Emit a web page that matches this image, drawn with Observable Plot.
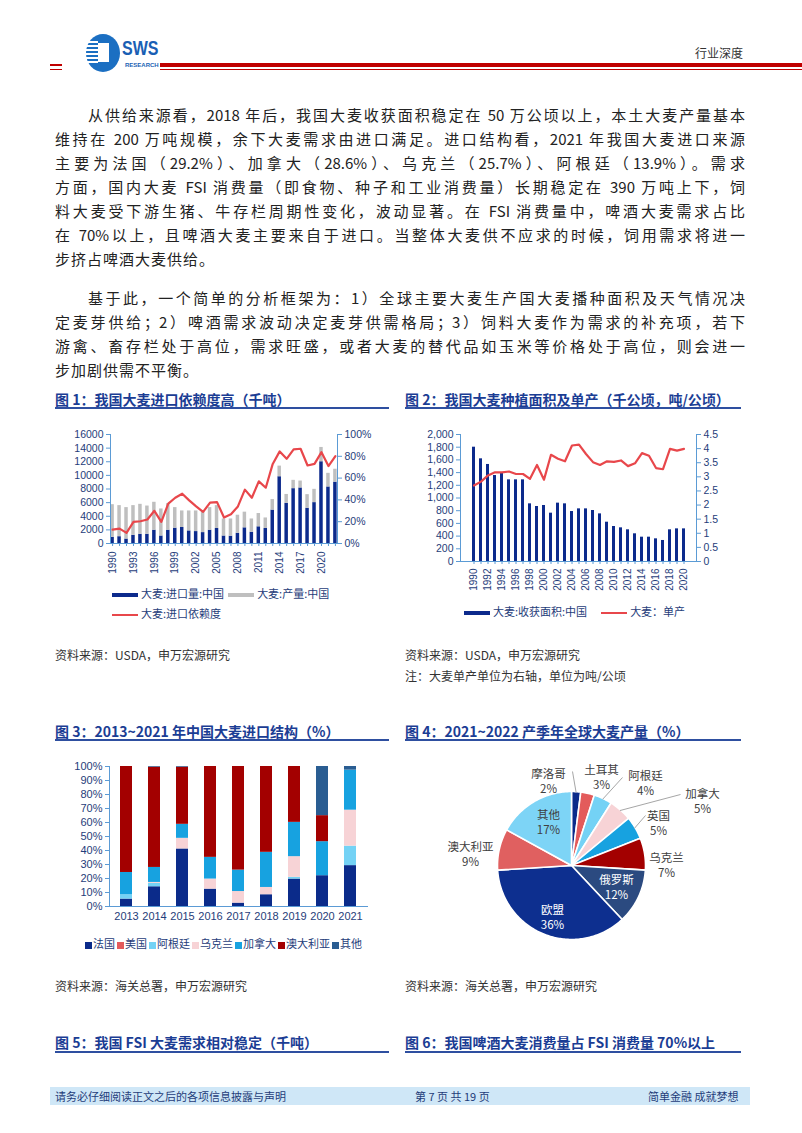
<!DOCTYPE html>
<html><head><meta charset="utf-8">
<script src="https://cdn.jsdelivr.net/npm/d3@7"></script>
<script src="https://cdn.jsdelivr.net/npm/@observablehq/plot@0.6"></script>
<style>
body{margin:0;background:#fff;}
#page{position:relative;width:802px;height:1133px;overflow:hidden;font-family:"Noto Sans CJK SC","Noto Sans",sans-serif;color:#222;}
.abs{position:absolute;white-space:nowrap;}
.ln{position:absolute;height:24px;line-height:24px;font-size:15px;text-align:justify;text-align-last:justify;color:#222;}
.ln.last{text-align:left;text-align-last:left;letter-spacing:1px;}
.ttl{position:absolute;font-size:14px;font-weight:bold;color:#1b3d94;line-height:18px;white-space:nowrap;}
.uline{position:absolute;height:2px;background:#2e4fa0;}
.src{position:absolute;font-size:12px;line-height:16px;color:#333;white-space:nowrap;}
.leg{position:absolute;font-size:11px;line-height:14px;color:#1f3d7a;white-space:nowrap;}
.sw{display:inline-block;vertical-align:middle;margin-right:3px;}
.chart{position:absolute;}
</style></head>
<body><div id="page">

<!-- header -->
<div class="abs" style="left:50px;top:64px;width:12px;height:2px;background:#c00000"></div>
<div class="abs" style="left:50px;top:69px;width:12px;height:1px;background:#c00000"></div>
<div class="abs" style="left:160px;top:63px;width:642px;height:4px;background:#c00000"></div>
<div class="abs" style="left:160px;top:69px;width:642px;height:1px;background:#c00000"></div>
<svg class="abs" style="left:80px;top:32px" width="44" height="44">
  <ellipse cx="23" cy="21" rx="17" ry="19" fill="#1b6fc2"/>
  <rect x="6" y="9" width="12" height="2" fill="#fff"/><rect x="5" y="13" width="13" height="2" fill="#fff"/>
  <rect x="5" y="17" width="13" height="2" fill="#fff"/><rect x="5" y="21" width="13" height="2" fill="#fff"/>
  <rect x="5" y="25" width="13" height="2" fill="#fff"/><rect x="6" y="29" width="12" height="2" fill="#fff"/>
  <rect x="18" y="11" width="11" height="19" fill="#fff"/>
</svg>
<div class="abs" style="left:122px;top:36px;font-family:'Liberation Sans',Arial,sans-serif;font-weight:bold;font-size:20px;line-height:24px;color:#1a5fb4;transform:scaleX(0.8);transform-origin:left top;">SWS</div>
<div class="abs" style="left:125px;top:61px;font-family:'Liberation Sans',Arial,sans-serif;font-weight:bold;font-size:6px;line-height:8px;color:#1a5fb4;">RESEARCH</div>
<div class="abs" style="left:695px;top:44px;font-size:12px;color:#333;">行业深度</div>

<!-- body text -->
<div id="body"></div>

<!-- figure titles -->
<div class="ttl" style="left:55px;top:390px;">图 1：我国大麦进口依赖度高（千吨）</div>
<div class="uline" style="left:55px;top:407px;width:334px;"></div>
<div class="ttl" style="left:405px;top:390px;">图 2：我国大麦种植面积及单产（千公顷，吨/公顷）</div>
<div class="uline" style="left:405px;top:407px;width:336px;"></div>

<div class="chart" id="c1" style="left:55px;top:425px;"></div>
<div class="chart" id="c2" style="left:400px;top:425px;"></div>

<div class="leg" style="left:112px;top:586px;"><span class="sw" style="width:26px;height:4px;background:#0c2a8c"></span>大麦:进口量:中国<span class="sw" style="width:26px;height:4px;background:#bfbfbf;margin-left:4px"></span>大麦:产量:中国</div>
<div class="leg" style="left:112px;top:606px;"><span class="sw" style="width:26px;height:2px;background:#e8474b"></span>大麦:进口依赖度</div>
<div class="leg" style="left:464px;top:604px;"><span class="sw" style="width:26px;height:4px;background:#0c2a8c"></span>大麦:收获面积:中国<span class="sw" style="width:26px;height:2px;background:#e8474b;margin-left:14px"></span>大麦：单产</div>

<div class="src" style="left:55px;top:647px;">资料来源：USDA，申万宏源研究</div>
<div class="src" style="left:405px;top:647px;">资料来源：USDA，申万宏源研究</div>
<div class="src" style="left:405px;top:668px;">注：大麦单产单位为右轴，单位为吨/公顷</div>

<div class="ttl" style="left:55px;top:722px;">图 3：2013~2021 年中国大麦进口结构（%）</div>
<div class="uline" style="left:55px;top:739px;width:334px;"></div>
<div class="ttl" style="left:405px;top:722px;">图 4：2021~2022 产季年全球大麦产量（%）</div>
<div class="uline" style="left:405px;top:739px;width:336px;"></div>

<div class="chart" id="c3" style="left:55px;top:758px;"></div>
<div class="chart" id="c4" style="left:400px;top:755px;"></div>
<div class="leg" id="leg3" style="left:85px;top:936px;"></div>

<div class="src" style="left:55px;top:978px;">资料来源：海关总署，申万宏源研究</div>
<div class="src" style="left:405px;top:978px;">资料来源：海关总署，申万宏源研究</div>

<div class="ttl" style="left:55px;top:1033px;">图 5：我国 FSI 大麦需求相对稳定（千吨）</div>
<div class="uline" style="left:55px;top:1051px;width:334px;"></div>
<div class="ttl" style="left:405px;top:1033px;">图 6：我国啤酒大麦消费量占 FSI 消费量 70%以上</div>
<div class="uline" style="left:405px;top:1051px;width:336px;"></div>

<!-- footer -->
<div class="abs" style="left:50px;top:1087px;width:700px;height:18px;background:#cfe7f7"></div>
<div class="abs" style="left:55px;top:1088px;font-size:11px;line-height:16px;color:#1f3d7a">请务必仔细阅读正文之后的各项信息披露与声明</div>
<div class="abs" style="left:415px;top:1088px;font-size:11px;line-height:16px;color:#1f3d7a">第 7 页 共 19 页</div>
<div class="abs" style="left:648px;top:1088px;font-size:11px;line-height:16px;color:#1f3d7a">简单金融 成就梦想</div>

</div>
<script>
// ---------- body text ----------
const para1 = [
  "从供给来源看，2018 年后，我国大麦收获面积稳定在 50 万公顷以上，本土大麦产量基本",
  "维持在 200 万吨规模，余下大麦需求由进口满足。进口结构看，2021 年我国大麦进口来源",
  "主要为法国（29.2%）、加拿大（28.6%）、乌克兰（25.7%）、阿根廷（13.9%）。需求",
  "方面，国内大麦 FSI 消费量（即食物、种子和工业消费量）长期稳定在 390 万吨上下，饲",
  "料大麦受下游生猪、牛存栏周期性变化，波动显著。在 FSI 消费量中，啤酒大麦需求占比",
  "在 70%以上，且啤酒大麦主要来自于进口。当整体大麦供不应求的时候，饲用需求将进一",
  "步挤占啤酒大麦供给。"
];
const para2 = [
  "基于此，一个简单的分析框架为：1）全球主要大麦生产国大麦播种面积及天气情况决",
  "定麦芽供给；2）啤酒需求波动决定麦芽供需格局；3）饲料大麦作为需求的补充项，若下",
  "游禽、畜存栏处于高位，需求旺盛，或者大麦的替代品如玉米等价格处于高位，则会进一",
  "步加剧供需不平衡。"
];

// ---------- chart 1 data ----------
const years1 = [1990,1991,1992,1993,1994,1995,1996,1997,1998,1999,2000,2001,2002,2003,2004,2005,2006,2007,2008,2009,2010,2011,2012,2013,2014,2015,2016,2017,2018,2019,2020,2021,2022];
const imports1 = [900,1000,650,1200,1350,1350,1950,1100,1950,2250,2350,1850,1750,1600,1950,2200,1100,1070,1500,2300,1650,2450,2200,4900,9800,5900,8050,8150,5170,6000,12000,8300,9000];
const production1 = [4800,4560,4620,4360,4400,4150,4100,3970,3900,3020,2430,2930,3030,3180,3320,3360,2500,2530,2650,2300,1950,1950,1550,1550,1560,1300,1220,1020,2000,1950,2100,2000,1900];
const dependence1 = [12.8,13.7,9.8,19.8,20.4,22,30,19.8,36.6,42,45.7,39.6,34,29,37.5,38,23.8,26.8,34,49.4,42,57,51.2,73,84.5,77.7,86.3,86.9,71.6,73,83.8,71,80.2];
const y1Ticks = [0,2000,4000,6000,8000,10000,12000,14000,16000];
const y1RightTicks = [0,20,40,60,80,100];
const x1LabelYears = [1990,1993,1996,1999,2002,2005,2008,2011,2014,2017,2020];

// ---------- chart 2 data ----------
const years2 = [1990,1991,1992,1993,1994,1995,1996,1997,1998,1999,2000,2001,2002,2003,2004,2005,2006,2007,2008,2009,2010,2011,2012,2013,2014,2015,2016,2017,2018,2019,2020];
const area2 = [1800,1617,1528,1354,1391,1286,1286,1286,908,866,882,761,919,908,787,829,829,803,750,619,551,530,499,436,383,383,357,331,499,514,514];
const yield2 = [2.69,2.83,3.05,3.16,3.16,3.19,3.1,3.1,2.93,3.42,2.9,3.78,3.64,3.55,4.11,4.14,3.81,3.52,3.42,3.55,3.53,3.58,3.38,3.48,3.84,3.75,3.31,3.27,3.99,3.93,3.99];
const y2Ticks = [0,200,400,600,800,1000,1200,1400,1600,1800,2000];
const y2RightTicks = [0,0.5,1,1.5,2,2.5,3,3.5,4,4.5];
const x2LabelYears = [1990,1992,1994,1996,1998,2000,2002,2004,2006,2008,2010,2012,2014,2016,2018,2020];

// ---------- chart 3 data ----------
const years3 = ["2013","2014","2015","2016","2017","2018","2019","2020","2021"];
const countries3 = ["法国","美国","阿根廷","乌克兰","加拿大","澳大利亚","其他"];
const colors3 = ["#0b2b8a","#e35b5b","#74d2f5","#f7d3d6","#17a2e0","#a30000","#2a5d92"];
const france3    = [5.3,14.1,41.1,12.4,2.4,8.4,19.6,22.0,29.2];
const usa3       = [0,0,0,0,0,0,0,0,0];
const argentina3 = [3.1,2.4,0,0,0,0,1.2,0,13.9];
const ukraine3   = [0,0.7,7.6,7.2,8.3,5.2,14.8,0,25.7];
const canada3    = [15.9,10.7,10.0,15.5,15.3,25.1,24.5,24.3,28.6];
const australia3 = [75.7,71.6,40.8,64.9,74.0,61.3,39.9,18.6,0];
const others3    = [0,0.5,0.5,0,0,0,0,35.1,2.6];
const y3Ticks = [0,10,20,30,40,50,60,70,80,90,100];

// ---------- chart 4 data ----------
const pieNames = ["摩洛哥","土耳其","阿根廷","加拿大","英国","乌克兰","俄罗斯","欧盟","澳大利亚","其他"];
const pieShares = [2,3,4,5,5,7,12,36,9,17];
const pieColors = ["#0b2b8a","#e35b5b","#74d2f5","#f7d3d6","#17a2e0","#a30000","#2b4a80","#0d2f8f","#e06060","#7dd4f6"];

// ---------- layout (not data) ----------
const NUMFONT = "Liberation Sans, Arial, sans-serif";
const AXIS = "#5b9bd5", TICKTXT = "#1f3d7a", NAVY = "#0c2a8c", GRAY = "#bfbfbf", RED = "#e8474b";
const pieLabelLayout = {
  "摩洛哥":[-23,-85,[1,-94],"#404040"], "土耳其":[30,-89,null,"#404040"], "阿根廷":[74,-83,[51,-88],"#404040"],
  "加拿大":[131,-65,[109,-71],"#404040"], "英国":[87,-43,[74,-50],"#404040"], "乌克兰":[95,-1,null,"#404040"],
  "俄罗斯":[45,21,null,"#ffffff"], "欧盟":[-19,51,null,"#ffffff"], "澳大利亚":[-101,-12,null,"#404040"], "其他":[-23,-44,null,"#404040"]
};

// ---------- render body ----------
const body = document.getElementById("body");
function addLines(lines, top0) {
  lines.forEach((t, i) => {
    const d = document.createElement("div");
    d.className = "ln" + (i === lines.length - 1 ? " last" : "");
    const left = i === 0 ? 88 : 55;
    d.style.left = left + "px";
    d.style.width = (745 - left) + "px";
    d.style.top = (top0 + i * 24) + "px";
    d.textContent = t;
    body.appendChild(d);
  });
}
addLines(para1, 103);
addLines(para2, 286);

// ---------- chart 1 ----------
const rows1 = years1.map((y, i) => ({year: y, imports: imports1[i], production: production1[i], dep: dependence1[i]}));
const k1 = 16000 / 100;
document.getElementById("c1").appendChild(Plot.plot({
  width: 335, height: 160, marginLeft: 55, marginRight: 53, marginTop: 9, marginBottom: 42,
  style: {fontFamily: NUMFONT, background: "transparent", overflow: "visible"},
  x: {type: "band", domain: years1, paddingInner: 0.5, paddingOuter: 0.05},
  y: {domain: [0, 16000]},
  marks: [
    Plot.barY(rows1, {x: "year", y1: 0, y2: "imports", fill: NAVY}),
    Plot.barY(rows1, {x: "year", y1: "imports", y2: d => d.imports + d.production, fill: GRAY}),
    Plot.line(rows1, {x: "year", y: d => d.dep * k1, stroke: RED, strokeWidth: 2.2}),
    Plot.frame({anchor: "left", stroke: AXIS}),
    Plot.frame({anchor: "right", stroke: AXIS}),
    Plot.frame({anchor: "bottom", stroke: AXIS}),
    Plot.axisY({ticks: y1Ticks, tickFormat: d => String(d), tickSize: 4, tickPadding: 3, stroke: AXIS, fill: TICKTXT, fontSize: 10.5, label: null}),
    Plot.axisY({anchor: "right", ticks: y1RightTicks.map(v => v * k1), tickFormat: d => Math.round(d / k1) + "%", tickSize: 4, tickPadding: 3, stroke: AXIS, fill: TICKTXT, fontSize: 10.5, label: null}),
    Plot.axisX({ticks: years1, tickFormat: () => "", tickSize: 3, stroke: AXIS, label: null}),
    Plot.axisX({ticks: x1LabelYears, tickFormat: d => String(d), tickSize: 0, tickRotate: -90, tickPadding: 8, fill: TICKTXT, fontSize: 10, label: null})
  ]
}));

// ---------- chart 2 ----------
const rows2 = years2.map((y, i) => ({year: y, area: area2[i], yld: yield2[i]}));
const k2 = 2000 / 4.5;
document.getElementById("c2").appendChild(Plot.plot({
  width: 350, height: 172, marginLeft: 60, marginRight: 54, marginTop: 9, marginBottom: 36,
  style: {fontFamily: NUMFONT, background: "transparent", overflow: "visible"},
  x: {type: "band", domain: years2, paddingInner: 0.62, paddingOuter: 0.1},
  y: {domain: [0, 2000]},
  marks: [
    Plot.barY(rows2, {x: "year", y: "area", fill: NAVY}),
    Plot.line(rows2, {x: "year", y: d => d.yld * k2, stroke: RED, strokeWidth: 2.2}),
    Plot.frame({anchor: "left", stroke: AXIS}),
    Plot.frame({anchor: "right", stroke: AXIS}),
    Plot.frame({anchor: "bottom", stroke: AXIS}),
    Plot.axisY({ticks: y2Ticks, tickFormat: d3.format(","), tickSize: 4, tickPadding: 3, stroke: AXIS, fill: TICKTXT, fontSize: 10.5, label: null}),
    Plot.axisY({anchor: "right", ticks: y2RightTicks.map(v => v * k2), tickFormat: d => String(Math.round(d / k2 * 10) / 10), tickSize: 4, tickPadding: 3, stroke: AXIS, fill: TICKTXT, fontSize: 10.5, label: null}),
    Plot.axisX({ticks: years2, tickFormat: () => "", tickSize: 3, stroke: AXIS, label: null}),
    Plot.axisX({ticks: x2LabelYears, tickFormat: d => String(d), tickSize: 0, tickRotate: -90, tickPadding: 7, fill: TICKTXT, fontSize: 10, label: null})
  ]
}));

// ---------- chart 3 ----------
const series3 = [france3, usa3, argentina3, ukraine3, canada3, australia3, others3];
const rows3 = [];
countries3.forEach((c, ci) => years3.forEach((y, yi) => rows3.push({year: y, country: c, share: series3[ci][yi]})));
document.getElementById("c3").appendChild(Plot.plot({
  width: 320, height: 170, marginLeft: 54, marginRight: 8, marginTop: 8, marginBottom: 22,
  style: {fontFamily: NUMFONT, background: "transparent", overflow: "visible"},
  x: {type: "band", domain: years3, paddingInner: 0.58, paddingOuter: 0.29},
  y: {domain: [0, 100]},
  color: {domain: countries3, range: colors3},
  marks: [
    Plot.barY(rows3, {x: "year", y: "share", fill: "country", order: countries3}),
    Plot.frame({anchor: "left", stroke: AXIS}),
    Plot.frame({anchor: "bottom", stroke: AXIS}),
    Plot.axisY({ticks: y3Ticks, tickFormat: d => d + "%", tickSize: 4, tickPadding: 3, stroke: AXIS, fill: TICKTXT, fontSize: 11, label: null}),
    Plot.axisX({tickSize: 0, tickPadding: 6, fill: TICKTXT, fontSize: 11, label: null})
  ]
}));
const leg3 = document.getElementById("leg3");
leg3.innerHTML = countries3.map((c, i) => `<span class="sw" style="width:7px;height:7px;background:${colors3[i]};margin-right:1px"></span><span style="margin-right:2px">${c}</span>`).join("");

// ---------- chart 4 (pie) ----------
const R = 74, CX = 171, CY = 110, W4 = 345, H4 = 200;
const tot = d3.sum(pieShares);
let acc = 0;
const slices = pieNames.map((n, i) => {
  const a0 = acc / tot * 2 * Math.PI; acc += pieShares[i]; const a1 = acc / tot * 2 * Math.PI;
  return {name: n, share: pieShares[i], a0, a1};
});
const poly = slices.flatMap(s => {
  const pts = [{name: s.name, x: 0, y: 0}];
  const n = Math.max(2, Math.ceil((s.a1 - s.a0) / (Math.PI / 180)));
  for (let k = 0; k <= n; k++) { const a = s.a0 + (s.a1 - s.a0) * k / n; pts.push({name: s.name, x: Math.sin(a), y: Math.cos(a)}); }
  pts.push({name: s.name, x: 0, y: 0});
  return pts;
});
const labels4 = slices.map(s => {
  const L = pieLabelLayout[s.name];
  return {name: s.name, text: s.name + "\n" + s.share + "%", x: L[0] / R, y: -L[1] / R, color: L[3]};
});
const leaders4 = slices.filter(s => pieLabelLayout[s.name][2]).map(s => {
  const m = (s.a0 + s.a1) / 2, E = pieLabelLayout[s.name][2];
  return {x1: Math.sin(m) * 0.99, y1: Math.cos(m) * 0.99, x2: E[0] / R, y2: -E[1] / R};
});
document.getElementById("c4").appendChild(Plot.plot({
  width: W4, height: H4, margin: 0,
  style: {fontFamily: "Noto Sans CJK SC, sans-serif", background: "transparent", overflow: "visible"},
  x: {domain: [-CX / R, (W4 - CX) / R], axis: null},
  y: {domain: [-(H4 - CY) / R, CY / R], axis: null},
  color: {domain: pieNames, range: pieColors},
  marks: [
    Plot.line(poly, {x: "x", y: "y", z: "name", fill: "name", stroke: "#ffffff", strokeWidth: 1.6, strokeLinejoin: "round"}),
    Plot.link(leaders4, {x1: "x1", y1: "y1", x2: "x2", y2: "y2", stroke: "#a6a6a6", strokeWidth: 1}),
    Plot.text(labels4, {x: "x", y: "y", text: "text", fill: d => d.color, fontSize: 11.5, lineHeight: 1.3})
  ]
}));
</script>
</body></html>
